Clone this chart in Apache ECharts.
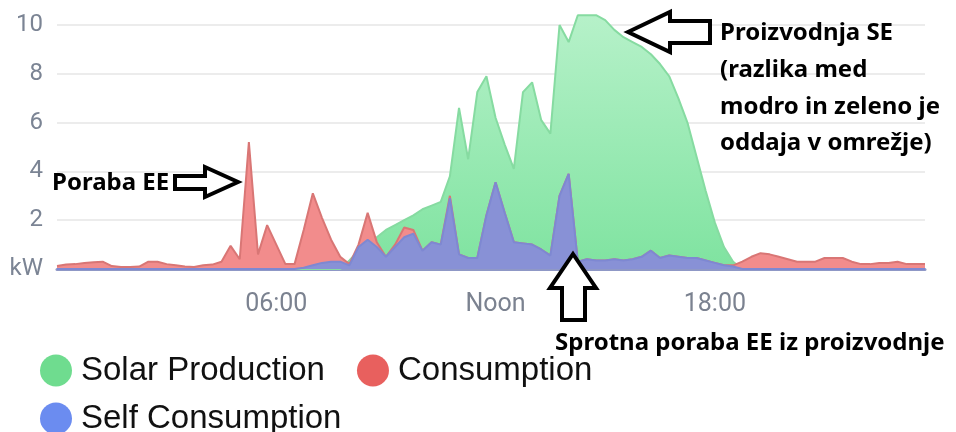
<!DOCTYPE html>
<html>
<head>
<meta charset="utf-8" />
<title></title>
<script src="https://cdn.jsdelivr.net/npm/echarts@6/dist/echarts.min.js"></script>
<style>
    html, body { margin: 0; padding: 0; background: #fff; }
    #main { width: 956px; height: 432px; }
</style>
</head>
<body>
<div id="main"></div>
<script type="text/javascript">
    // 15 min samples over one day
    var times = [];
    for (var h = 0; h < 24; h++) {
        for (var m = 0; m < 60; m += 15) {
            times.push((h < 10 ? '0' : '') + h + ':' + (m < 10 ? '0' : '') + m);
        }
    }
    var xTickLabels = { '06:00': '06:00', '12:00': 'Noon', '18:00': '18:00' };

    var solar = [
        0, 0, 0, 0, 0, 0, 0, 0, 0, 0, 0, 0, 0, 0, 0, 0,
        0, 0, 0, 0, 0, 0, 0, 0, 0, 0, 0, 0, 0, 0, 0, 0,
        0.35, 0.75, 1.0, 1.3, 1.6, 1.8, 2.0, 2.2, 2.45, 2.6, 2.75, 3.8, 6.6, 4.5, 7.25, 7.9,
        6.2, 5.1, 4.1, 7.25, 7.65, 6.1, 5.55, 10.0, 9.3, 10.4, 10.4, 10.4, 10.2, 9.8, 9.5, 9.3,
        9.1, 8.8, 8.4, 7.9, 7.0, 6.0, 4.6, 3.2, 1.9, 0.9, 0.3, 0, 0, 0, 0, 0,
        0, 0, 0, 0, 0, 0, 0, 0, 0, 0, 0, 0, 0, 0, 0, 0
    ];
    var consumption = [
        0.12, 0.18, 0.2, 0.25, 0.28, 0.3, 0.12, 0.08, 0.08, 0.1, 0.3, 0.3, 0.2, 0.15, 0.1, 0.08,
        0.15, 0.18, 0.3, 0.95, 0.4, 5.2, 0.6, 1.8, 1.0, 0.2, 0.2, 1.6, 3.1, 2.1, 1.2, 0.5,
        0.2, 1.0, 2.3, 1.1, 0.5, 1.0, 1.7, 1.6, 0.75, 1.1, 1.0, 3.0, 0.6, 0.45, 0.45, 2.2,
        3.55, 2.3, 1.1, 1.05, 1.0, 0.8, 0.55, 3.0, 3.9, 0.3, 0.4, 0.35, 0.35, 0.4, 0.35, 0.4,
        0.5, 0.75, 0.45, 0.55, 0.5, 0.45, 0.45, 0.35, 0.25, 0.15, 0.15, 0.3, 0.5, 0.65, 0.6, 0.5,
        0.4, 0.3, 0.3, 0.3, 0.45, 0.45, 0.45, 0.3, 0.2, 0.2, 0.25, 0.25, 0.3, 0.2, 0.2, 0.2
    ];
    var selfConsumption = [
        0, 0, 0, 0, 0, 0, 0, 0, 0, 0, 0, 0, 0, 0, 0, 0,
        0, 0, 0, 0, 0, 0, 0, 0, 0, 0, 0, 0.05, 0.15, 0.25, 0.3, 0.3,
        0.15, 0.9, 1.2, 0.9, 0.5, 0.9, 1.3, 1.45, 0.75, 1.1, 1.0, 2.9, 0.6, 0.45, 0.45, 2.2,
        3.55, 2.3, 1.1, 1.05, 1.0, 0.8, 0.55, 3.0, 3.9, 0.3, 0.4, 0.35, 0.35, 0.4, 0.35, 0.4,
        0.5, 0.75, 0.45, 0.55, 0.5, 0.45, 0.45, 0.35, 0.25, 0.15, 0.1, 0, 0, 0, 0, 0,
        0, 0, 0, 0, 0, 0, 0, 0, 0, 0, 0, 0, 0, 0, 0, 0
    ];

    var noteFont = 'bold 24px "Noto Sans", sans-serif';

    function arrow(points) {
        return {
            type: 'polygon',
            z: 100,
            shape: { points: points },
            style: { fill: '#fff', stroke: '#000', lineWidth: 4, lineJoin: 'miter' }
        };
    }
    function note(x, y, text) {
        return {
            type: 'text',
            z: 100,
            x: x,
            y: y,
            style: { text: text, font: noteFont, fill: '#000', verticalAlign: 'middle' }
        };
    }

    var legendText = { fontSize: 33, color: '#111', fontFamily: 'Liberation Sans', padding: [0, 0, 0, 4] };

    var myChart = echarts.init(document.getElementById('main'));
    var option = {
        animation: false,
        grid: { left: 57, right: 31, top: 25, bottom: 163 },
        legend: [
            {
                data: ['Solar Production', 'Consumption'],
                left: 35, top: 349,
                icon: 'circle', itemWidth: 32, itemHeight: 32, itemGap: 32,
                textStyle: legendText
            },
            {
                data: ['Self Consumption'],
                left: 35, top: 397,
                icon: 'circle', itemWidth: 32, itemHeight: 32,
                textStyle: legendText
            }
        ],
        xAxis: {
            type: 'category',
            boundaryGap: false,
            data: times,
            axisLine: { lineStyle: { color: '#8f98c6', width: 3 } },
            axisTick: { show: false },
            axisLabel: {
                interval: function (i, v) { return xTickLabels[v] !== undefined; },
                formatter: function (v) { return xTickLabels[v]; },
                color: '#7b8290', fontSize: 25, margin: 23, fontFamily: 'Roboto'
            },
            splitLine: { show: false }
        },
        yAxis: {
            type: 'value',
            min: 0, max: 10, interval: 2,
            axisLine: { show: false },
            axisTick: { show: false },
            axisLabel: {
                formatter: function (v) { return v === 0 ? 'kW' : v; },
                color: '#7b8494', fontSize: 24, margin: 14, fontFamily: 'Roboto'
            },
            splitLine: { lineStyle: { color: '#ececec', width: 2 } }
        },
        series: [
            {
                name: 'Solar Production',
                type: 'line',
                data: solar,
                clip: false,
                showSymbol: false,
                itemStyle: { color: '#6fdc8f' },
                lineStyle: { color: '#86dba1', width: 2 },
                areaStyle: {
                    opacity: 1,
                    color: new echarts.graphic.LinearGradient(0, 0, 0, 1, [
                        { offset: 0, color: '#b6f1c9' },
                        { offset: 1, color: '#7fe3a0' }
                    ])
                },
                z: 2
            },
            {
                name: 'Consumption',
                type: 'line',
                data: consumption,
                showSymbol: false,
                itemStyle: { color: '#e8605e' },
                lineStyle: { color: '#d97675', width: 2 },
                areaStyle: { color: '#f28c8c', opacity: 1 },
                z: 3
            },
            {
                name: 'Self Consumption',
                type: 'line',
                data: selfConsumption,
                showSymbol: false,
                itemStyle: { color: '#6b8cf0' },
                lineStyle: { color: '#7e88d2', width: 2 },
                areaStyle: { color: '#8891d6', opacity: 1 },
                z: 4
            }
        ],
        graphic: [
            note(52, 183, 'Poraba EE'),
            arrow([[175, 176], [205, 176], [205, 167], [238, 182], [205, 197], [205, 189], [175, 189]]),
            arrow([[628, 32], [670, 12], [670, 21], [710, 21], [710, 43], [670, 43], [670, 52]]),
            note(720, 33, 'Proizvodnja SE'),
            note(720, 70, '(razlika med'),
            note(720, 107, 'modro in zeleno je'),
            note(720, 143, 'oddaja v omrežje)'),
            arrow([[573, 254], [596, 288], [585, 288], [585, 320], [562, 320], [562, 288], [550, 288]]),
            note(555, 343, 'Sprotna poraba EE iz proizvodnje')
        ]
    };
    myChart.setOption(option);
</script>
</body>
</html>
